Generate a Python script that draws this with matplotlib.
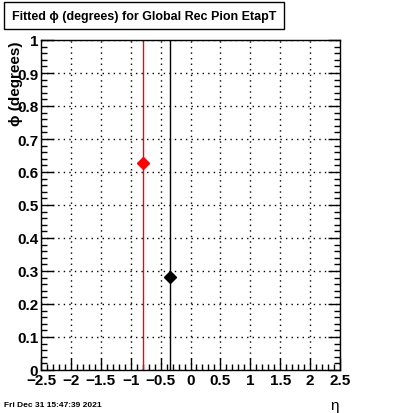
import matplotlib
matplotlib.use("Agg")
import matplotlib.pyplot as plt
from matplotlib.ticker import MultipleLocator
from matplotlib.patches import Rectangle

plt.rcParams['font.family'] = ['Liberation Sans', 'DejaVu Sans']

eta = [-0.786, -0.338]
phi = [0.626, 0.283]
colors = ['red', 'black']
title = "Fitted \u03d5 (degrees) for Global Rec Pion EtapT"
date_text = "Fri Dec 31 15:47:39 2021"

W, H = 400, 414
fig = plt.figure(figsize=(W/100, H/100), dpi=100)
ax = fig.add_axes([41/W, 1-371/H, (340-41)/W, (371-41)/H])

for x, y, c in zip(eta, phi, colors):
    ax.plot([x, x], [-1, 2], color=c, lw=1)
    ax.plot([x], [y], marker='D', color=c, markersize=6, linestyle='none')

ax.set_xlim(-2.5, 2.5)
ax.set_ylim(0, 1)
ax.xaxis.set_major_locator(MultipleLocator(0.5))
ax.xaxis.set_minor_locator(MultipleLocator(0.1))
ax.yaxis.set_major_locator(MultipleLocator(0.1))
ax.yaxis.set_minor_locator(MultipleLocator(0.02))
ax.grid(True, which='major', color='black', linestyle=(0, (1, 3)), lw=1)
ax.tick_params(which='both', direction='in', top=False, right=True, width=1)
ax.tick_params(which='major', length=9, labelsize=11, pad=2)
ax.tick_params(which='minor', length=4.5)
for lab in ax.get_xticklabels() + ax.get_yticklabels():
    lab.set_fontweight('bold')
ax.set_yticks([i/10 for i in range(11)])
ax.set_yticklabels(['0', '0.1', '0.2', '0.3', '0.4', '0.5', '0.6', '0.7', '0.8', '0.9', '1'], fontweight='bold')
ax.set_xticks([-2.5, -2, -1.5, -1, -0.5, 0, 0.5, 1, 1.5, 2, 2.5])
ax.set_xticklabels(['\u22122.5', '\u22122', '\u22121.5', '\u22121', '\u22120.5', '0', '0.5', '1', '1.5', '2', '2.5'], fontweight='bold')
for s in ax.spines.values():
    s.set_linewidth(1)

# title box
fig.patches.append(Rectangle((4/W, 1-30/H), 280/W, 27/H, transform=fig.transFigure,
                             facecolor='white', edgecolor='black', lw=1))
fig.text(144/W, 1-17/H, title, ha='center', va='center', fontsize=9, fontweight='bold')

fig.text(16/W, 1-42/H, "\u03d5 (degrees)", rotation=90, ha='center', va='top',
         fontsize=11, fontweight='bold')
fig.text(335/W, 1-406/H, "\u03b7", ha='center', va='center', fontsize=11)
fig.text(4/W, 1-406/H, date_text, ha='left', va='center', fontsize=6, fontweight='bold')

fig.savefig("out.png", dpi=100)
